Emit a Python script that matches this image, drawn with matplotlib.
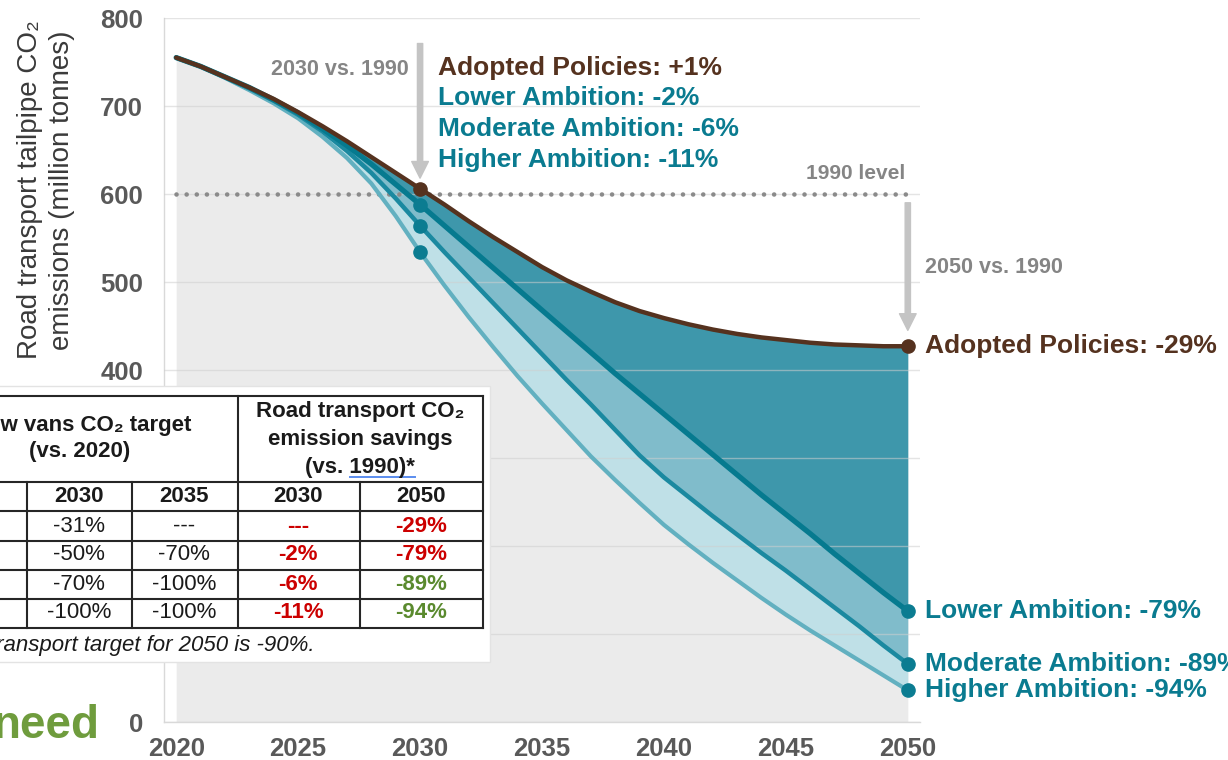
import matplotlib.pyplot as plt
from matplotlib.patches import Rectangle

plt.rcParams['font.family'] = ['Liberation Sans', 'DejaVu Sans']

# emissions in million tonnes, one value per year
years = list(range(2020, 2051))
adopted = [755, 745, 733, 721, 708, 693, 677, 660, 642, 624, 606,
           588, 569, 551, 534, 517, 502, 489, 477, 467, 459,
           452, 446, 441, 437, 434, 431, 429, 428, 427, 427]
lower = [755, 745, 733, 721, 707, 692, 674, 655, 634, 611, 588,
         564, 540, 516, 492, 468, 444, 420, 396, 373, 350,
         327, 304, 281, 258, 236, 214, 191, 169, 147, 126]
moderate = [755, 745, 733, 720, 706, 690, 671, 649, 624, 595, 564,
            534, 505, 476, 447, 418, 389, 361, 332, 303, 278,
            256, 234, 213, 192, 172, 151, 130, 109, 87, 66]
higher = [755, 745, 732, 718, 703, 686, 665, 641, 612, 575, 534,
          496, 460, 426, 393, 362, 332, 302, 275, 249, 224,
          202, 181, 161, 141, 122, 104, 87, 70, 53, 36]
level_1990 = 600
marker_years = [2030, 2050]

scenario_names = ['Adopted Policies', 'Lower Ambition', 'Moderate Ambition', 'Higher Ambition']

# inset table
van_2030 = ['-31%', '-50%', '-70%', '-100%']
van_2035 = ['---', '-70%', '-100%', '-100%']
save_2030 = ['---', '-2%', '-6%', '-11%']
save_2050 = ['-29%', '-79%', '-89%', '-94%']
save_2050_green = [False, False, True, True]

BROWN = '#55321f'
TEAL_TXT = '#0a7b90'
GRAY_TXT = '#858585'
TICK = '#595959'

fig = plt.figure(figsize=(12.28, 7.6), dpi=100)
ax = fig.add_axes([164 / 1228, 38 / 760, (920 - 164) / 1228, (722 - 18) / 760])
ax.set_xlim(2019.5, 2050.5)
ax.set_ylim(0, 800)

ax.fill_between(years, 0, adopted, color='#ebebeb', lw=0, zorder=1)
ax.fill_between(years, lower, adopted, color='#3e97ab', lw=0, zorder=1.2)
ax.fill_between(years, moderate, lower, color='#80bccb', lw=0, zorder=1.3)
ax.fill_between(years, higher, moderate, color='#bfe0e7', lw=0, zorder=1.4)

ax.set_axisbelow(False)
ax.yaxis.grid(True, color='#cfcfcf', lw=1, alpha=0.55)
ax.xaxis.grid(False)

ax.plot([2020, 2050], [level_1990, level_1990], color='#8a8a8a', lw=3.3,
        linestyle=(0, (0.01, 2.2)), dash_capstyle='round', zorder=2.8)

series = [adopted, lower, moderate, higher]
line_cols = [BROWN, '#067a8f', '#1b89a0', '#62b0c0']
line_w = [3.2, 3.8, 3.2, 3.0]
marker_cols = [BROWN, '#0b7c91', '#0b7c91', '#0b7c91']
for vals, c, w, z in zip(series[::-1], line_cols[::-1], line_w[::-1], [3.1, 3.2, 3.3, 3.4]):
    ax.plot(years, vals, color=c, lw=w, solid_capstyle='round', solid_joinstyle='round', zorder=z)
for vals, mc in zip(series, marker_cols):
    pts = [vals[years.index(y)] for y in marker_years]
    ax.plot(marker_years, pts, 'o', color=mc, ms=9.5, zorder=4, clip_on=False)

for s in ['top', 'right']:
    ax.spines[s].set_visible(False)
for s in ['left', 'bottom']:
    ax.spines[s].set_color('#d9d9d9')
    ax.spines[s].set_linewidth(1)
ax.set_xticks(range(2020, 2051, 5))
ax.set_yticks(range(0, 801, 100))
ax.tick_params(axis='both', length=0, labelsize=18.5, labelcolor=TICK)
ax.tick_params(axis='y', pad=15)
ax.tick_params(axis='x', pad=11)
for lab in ax.get_xticklabels() + ax.get_yticklabels():
    lab.set_fontweight('bold')
# 100-300 sit under the inset table in the reference
for lab, v in zip(ax.get_yticklabels(), ax.get_yticks()):
    if 0 < v < 400:
        lab.set_visible(False)

fig.text(46 / 1228, 1 - 190 / 760, 'Road transport tailpipe CO₂\nemissions (million tonnes)',
         rotation=90, ha='center', va='center', fontsize=20, color='#3a3a3a', linespacing=1.3)


def pct(v):
    return round((v / level_1990 - 1) * 100)


# 2030 labels
i30 = years.index(2030)
top_y = [743, 709, 674, 639]
for name, vals, ty in zip(scenario_names, series, top_y):
    col = BROWN if name == 'Adopted Policies' else TEAL_TXT
    ax.text(2030.75, ty, f'{name}: {pct(vals[i30]):+d}%', ha='left', va='center',
            fontsize=19, fontweight='bold', color=col, zorder=6)

# 2050 labels
i50 = years.index(2050)
for name, vals in zip(scenario_names, series):
    col = BROWN if name == 'Adopted Policies' else TEAL_TXT
    ax.annotate(f'{name}: {pct(vals[i50]):+d}%', xy=(2050, vals[i50]), xytext=(12.5, 0),
                textcoords='offset points', ha='left', va='center', fontsize=19,
                fontweight='bold', color=col, annotation_clip=False, zorder=6)

ax.text(2029.55, 741, '2030 vs. 1990', ha='right', va='center', fontsize=15.5,
        fontweight='bold', color=GRAY_TXT)
ax.text(2049.9, 613, '1990 level', ha='right', va='bottom', fontsize=15,
        fontweight='bold', color=GRAY_TXT)
ax.text(2050.7, 517, '2050 vs. 1990', ha='left', va='center', fontsize=15.5,
        fontweight='bold', color=GRAY_TXT, clip_on=False)

arrow = dict(color='#c4c4c4', width=3.8, headwidth=12, headlength=12, shrink=0)
ax.annotate('', xy=(2030, 618), xytext=(2030, 771), arrowprops=arrow, annotation_clip=False)
ax.annotate('', xy=(2050, 445), xytext=(2050, 590), arrowprops=arrow, annotation_clip=False)

# overlay in pixel units for the inset table and the cut-off slide text
ov = fig.add_axes([0, 0, 1, 1], zorder=5)
ov.set_xlim(0, 1228)
ov.set_ylim(760, 0)
ov.axis('off')
ov.patch.set_alpha(0)

ov.add_patch(Rectangle((-10, 386), 500, 276, facecolor='white', edgecolor='#e3e3e3', lw=1))
lc = '#262626'
lw = 1.5
ov.plot([-5, 483], [396, 396], color=lc, lw=lw)
for yy in [482, 511, 541, 570, 599, 628]:
    ov.plot([-5, 483], [yy, yy], color=lc, lw=lw)
ov.plot([238, 238], [396, 628], color=lc, lw=lw)
ov.plot([483, 483], [396, 628], color=lc, lw=lw)
for xx in [27, 132, 360]:
    ov.plot([xx, xx], [482, 628], color=lc, lw=lw)

tk = dict(ha='center', va='center', fontsize=16, color='#1a1a1a')
ov.text(82, 425, 'New vans CO₂ target', fontweight='bold', **tk)
ov.text(80, 452, '(vs. 2020)', fontweight='bold', **tk)
ov.text(360, 411, 'Road transport CO₂', fontweight='bold', **tk)
ov.text(360, 439, 'emission savings', fontweight='bold', **tk)
ov.text(360, 467, '(vs. 1990)*', fontweight='bold', **tk)
ov.plot([350, 415], [477, 477], color='#5b8def', lw=1.4)
for xx, lab in zip([79, 184, 298, 421], ['2030', '2035', '2030', '2050']):
    ov.text(xx, 496, lab, fontweight='bold', **tk)

row_y = [526, 555, 584, 613]
for k, ry in enumerate(row_y):
    ov.text(79, ry, van_2030[k], **tk)
    ov.text(184, ry, van_2035[k], **tk)
    ov.text(298, ry, save_2030[k], ha='center', va='center', fontsize=16,
            fontweight='bold', color='#cc0000')
    ov.text(421, ry, save_2050[k], ha='center', va='center', fontsize=16,
            fontweight='bold', color='#5a8a2e' if save_2050_green[k] else '#cc0000')

ov.text(315, 645, '*Road transport target for 2050 is -90%.', ha='right', va='center',
        fontsize=16, style='italic', color='#1a1a1a')

ov.text(100, 738, 'need', ha='right', va='baseline', fontsize=33, fontweight='bold',
        color='#6f9c3d')

fig.savefig('out.png', dpi=100)
